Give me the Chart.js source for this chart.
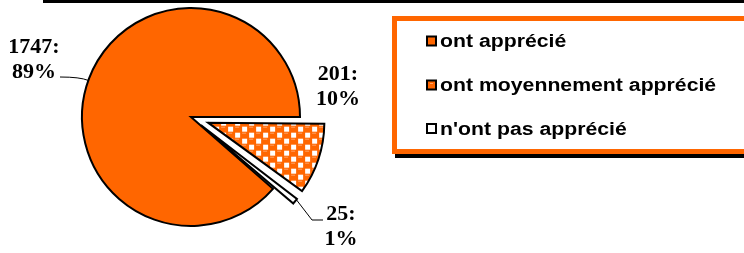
<!DOCTYPE html>
<html><head><meta charset="utf-8">
<script src="https://cdn.jsdelivr.net/npm/chart.js@4.4.0/dist/chart.umd.min.js"></script>
<style>html,body{margin:0;padding:0;background:#fff;}canvas{display:block;}</style>
</head><body>
<canvas id="c" width="744" height="253"></canvas>
<script>
// ---- data ----
const categories = ["ont apprécié", "ont moyennement apprécié", "n'ont pas apprécié"];
const counts = [1747, 201, 25];
const percentLabels = ["89%", "10%", "1%"];

// ---- styles / layout ----
const ORANGE = '#FF6600';
const total = counts.reduce((a, b) => a + b, 0);
const firstSliceStart = 360 * (counts[1] + counts[2]) / total; // degrees clockwise from 3 o'clock

function makePattern() {
  const t = document.createElement('canvas'); t.width = 14; t.height = 12;
  const g = t.getContext('2d');
  g.fillStyle = ORANGE; g.fillRect(0, 0, 14, 12);
  g.fillStyle = '#fff';
  g.fillRect(1, 1, 5, 5); g.fillRect(8, 7, 5, 5);
  g.fillStyle = '#ffa366';
  g.fillRect(8, 1, 4, 1); g.fillRect(1, 7, 4, 1);
  return g.createPattern(t, 'repeat');
}
const pattern = makePattern();

const labelPos = [ {x: 34, y: 53}, {x: 338, y: 80}, {x: 341, y: 220} ];
const labelLineGap = 25;

const decorPlugin = {
  id: 'decor',
  beforeDraw(chart) {
    const ctx = chart.ctx;
    ctx.save();
    ctx.fillStyle = '#fff'; ctx.fillRect(0, 0, chart.width, chart.height);
    ctx.fillStyle = '#000'; ctx.fillRect(43, 0, 701, 3);
    ctx.restore();
  },
  afterDatasetsDraw(chart) {
    const ctx = chart.ctx;
    const meta = chart.getDatasetMeta(0);
    const arcs = meta.data;
    ctx.save();
    ctx.strokeStyle = '#000'; ctx.lineWidth = 1;
    {
      const a = arcs[0];
      const ang = 199.6 * Math.PI / 180;
      const ex = a.x + Math.cos(ang) * a.outerRadius, ey = a.y + Math.sin(ang) * a.outerRadius;
      ctx.beginPath(); ctx.moveTo(60, 77); ctx.quadraticCurveTo(80, 77, ex, ey); ctx.stroke();
    }
    {
      const a = arcs[2];
      const off = (a.options.offset || 0) / 4;
      const circ = a.endAngle - a.startAngle;
      const fix = 1 - Math.sin(Math.min(Math.PI, circ));
      const mid = (a.startAngle + a.endAngle) / 2;
      const tipAng = a.startAngle + circ * 0.3;
      const tx = a.x + Math.cos(mid) * off + Math.cos(tipAng) * (a.outerRadius + off * fix);
      const ty = a.y + Math.sin(mid) * off + Math.sin(tipAng) * (a.outerRadius + off * fix);
      ctx.beginPath(); ctx.moveTo(tx, ty); ctx.lineTo(312, 220); ctx.lineTo(323, 220); ctx.stroke();
    }
    ctx.fillStyle = '#000';
    ctx.font = 'bold 22px "Liberation Serif", "Times New Roman", serif';
    ctx.textAlign = 'center'; ctx.textBaseline = 'alphabetic';
    counts.forEach((v, i) => {
      const p = labelPos[i];
      ctx.fillText(v + ':', p.x, p.y);
      ctx.fillText(percentLabels[i], p.x, p.y + labelLineGap);
    });
    ctx.restore();
  },
  afterDraw(chart) {
    const ctx = chart.ctx;
    ctx.save();
    ctx.fillStyle = '#000'; ctx.fillRect(395, 21, 500, 137);
    ctx.fillStyle = '#fff'; ctx.fillRect(392, 16, 500, 138);
    ctx.strokeStyle = ORANGE; ctx.lineWidth = 5; ctx.strokeRect(394.5, 18.5, 500, 133);
    const rows = [41, 85, 128.5];
    const fills = [ORANGE, ORANGE, '#fff'];
    categories.forEach((c, i) => {
      const cy = rows[i];
      ctx.fillStyle = fills[i];
      ctx.fillRect(427, cy - 4.5, 9, 9);
      if (i === 1) { ctx.fillStyle = '#ffa366'; ctx.fillRect(430, cy - 2, 3, 1); }
      ctx.strokeStyle = '#000'; ctx.lineWidth = 2;
      ctx.strokeRect(427, cy - 4.5, 9, 9);
      ctx.save();
      ctx.translate(440, cy + 6);
      ctx.scale(1.18, 1);
      ctx.fillStyle = '#000';
      ctx.font = 'bold 18px "Liberation Sans", Arial, sans-serif';
      ctx.textAlign = 'left'; ctx.textBaseline = 'alphabetic';
      ctx.fillText(c, 0, 0);
      ctx.restore();
    });
    ctx.restore();
  }
};

new Chart(document.getElementById('c'), {
  type: 'pie',
  data: {
    labels: categories,
    datasets: [{
      data: counts,
      backgroundColor: [ORANGE, pattern, '#ffffff'],
      borderColor: '#000',
      borderWidth: 2,
      borderJoinStyle: 'miter',
      offset: [0, 72, 52],
      radius: 109
    }]
  },
  options: {
    responsive: false,
    animation: false,
    events: [],
    rotation: 90 + firstSliceStart,
    layout: { padding: { left: 0, top: 0, right: 362, bottom: 19 } },
    plugins: { legend: { display: false }, tooltip: { enabled: false }, title: { display: false } }
  },
  plugins: [decorPlugin]
});
</script>
</body></html>
